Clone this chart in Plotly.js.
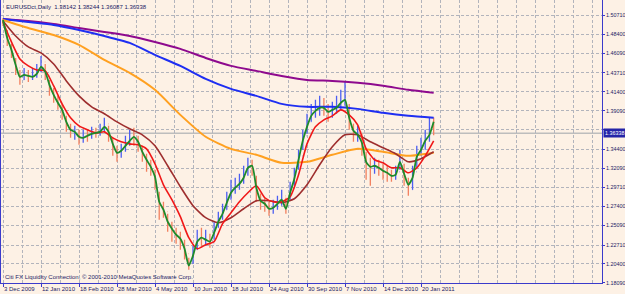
<!DOCTYPE html>
<html>
<head>
<meta charset="utf-8">
<script src="https://cdn.plot.ly/plotly-3.0.1.min.js"></script>
<style>
  html, body { margin: 0; padding: 0; background: #FDF1E5; }
  #chart { width: 625px; height: 294px; }
</style>
</head>
<body>
<div id="chart"></div>
<script>
// ---- Data (sample index: one step ≈ 3 trading days) ----
const dateTickIdx = [0, 9, 18, 27, 36, 45, 54, 63, 72, 81, 90, 99];
const dateTickLabels = ['3 Dec 2009', '12 Jan 2010', '18 Feb 2010', '28 Mar 2010', '4 May 2010', '10 Jun 2010',
  '18 Jul 2010', '24 Aug 2010', '30 Sep 2010', '7 Nov 2010', '14 Dec 2010', '20 Jan 2011'];

const priceTickVals = [1.50710, 1.48400, 1.46090, 1.43710, 1.41400, 1.39090, 1.36780, 1.34400, 1.32090,
  1.29710, 1.27400, 1.25090, 1.22710, 1.20400, 1.18090];
// 1.36780 is hidden behind the current-price box in the reference
const priceTickText = ['1.50710', '1.48400', '1.46090', '1.43710', '1.41400', '1.39090', '', '1.34400',
  '1.32090', '1.29710', '1.27400', '1.25090', '1.22710', '1.20400', '1.18090'];

const closePrices = [
  1.4989,1.4770,1.4624,1.4429,1.4283,1.4369,1.4308,1.4356,1.4381,1.4503,
  1.4332,1.4162,1.4077,1.3979,1.3870,1.3723,1.3650,1.3675,1.3553,1.3602,
  1.3577,1.3650,1.3626,1.3699,1.3748,1.3577,1.3431,1.3358,1.3456,1.3529,
  1.3602,1.3553,1.3456,1.3358,1.3261,1.3188,1.3017,1.2750,1.2677,1.2506,
  1.2433,1.2385,1.2312,1.2166,1.2044,1.2214,1.2360,1.2336,1.2360,1.2287,
  1.2482,1.2604,1.2701,1.2847,1.2945,1.2993,1.3066,1.3139,1.3261,1.3188,
  1.2896,1.2774,1.2750,1.2677,1.2750,1.2823,1.2871,1.2750,1.2969,1.3139,
  1.3358,1.3602,1.3772,1.3894,1.3943,1.3991,1.3918,1.3845,1.3943,1.3967,
  1.4064,1.4089,1.3748,1.3626,1.3650,1.3456,1.3212,1.3188,1.3261,1.3188,
  1.3139,1.3115,1.3091,1.3164,1.3334,1.3066,1.2945,1.3164,1.3407,1.3480,
  1.3577,1.3790,1.36338];
const highPrices = [
  1.5038,1.4892,1.4722,1.4551,1.4405,1.4429,1.4405,1.4429,1.4478,1.4576,
  1.4478,1.4283,1.4186,1.4089,1.3991,1.3845,1.3748,1.3723,1.3675,1.3675,
  1.3675,1.3711,1.3699,1.3748,1.3821,1.3723,1.3577,1.3480,1.3504,1.3602,
  1.3675,1.3699,1.3602,1.3480,1.3383,1.3310,1.3188,1.2920,1.2798,1.2652,
  1.2555,1.2482,1.2433,1.2336,1.2117,1.2263,1.2458,1.2482,1.2458,1.2409,
  1.2555,1.2677,1.2774,1.2920,1.3066,1.3091,1.3139,1.3237,1.3334,1.3310,
  1.3115,1.2896,1.2847,1.2798,1.2823,1.2871,1.2945,1.2847,1.3042,1.3212,
  1.3431,1.3675,1.3870,1.3991,1.4040,1.4089,1.4064,1.3991,1.4016,1.4089,
  1.4162,1.4259,1.3991,1.3748,1.3723,1.3626,1.3407,1.3334,1.3334,1.3310,
  1.3261,1.3237,1.3188,1.3237,1.3431,1.3261,1.3091,1.3237,1.3480,1.3577,
  1.3675,1.3821,1.38244];
const lowPrices = [
  1.4941,1.4697,1.4551,1.4344,1.4223,1.4283,1.4259,1.4283,1.4308,1.4381,
  1.4283,1.4089,1.4004,1.3918,1.3797,1.3650,1.3577,1.3553,1.3492,1.3517,
  1.3529,1.3565,1.3577,1.3602,1.3650,1.3529,1.3358,1.3285,1.3334,1.3407,
  1.3480,1.3480,1.3407,1.3285,1.3164,1.3115,1.2945,1.2579,1.2604,1.2433,
  1.2312,1.2287,1.2214,1.2093,1.1971,1.2044,1.2214,1.2263,1.2263,1.2238,
  1.2336,1.2482,1.2579,1.2701,1.2823,1.2896,1.2945,1.3017,1.3115,1.3115,
  1.2798,1.2701,1.2677,1.2628,1.2652,1.2701,1.2750,1.2652,1.2823,1.2993,
  1.3188,1.3431,1.3626,1.3772,1.3821,1.3845,1.3845,1.3772,1.3821,1.3870,
  1.3918,1.3967,1.3675,1.3529,1.3529,1.3358,1.3066,1.2993,1.3139,1.3115,
  1.3066,1.3042,1.3042,1.3066,1.3188,1.2993,1.2871,1.2945,1.3212,1.3358,
  1.3431,1.3529,1.36087];

const maGreen = [
  1.5014,1.4795,1.4649,1.4466,1.4320,1.4344,1.4332,1.4320,1.4356,1.4442,
  1.4381,1.4223,1.4101,1.4004,1.3918,1.3772,1.3675,1.3650,1.3590,1.3577,
  1.3602,1.3626,1.3638,1.3650,1.3711,1.3650,1.3504,1.3395,1.3419,1.3480,
  1.3541,1.3590,1.3529,1.3407,1.3310,1.3224,1.3103,1.2798,1.2701,1.2555,
  1.2470,1.2397,1.2348,1.2226,1.2019,1.2141,1.2312,1.2360,1.2336,1.2312,
  1.2421,1.2555,1.2652,1.2786,1.2908,1.2969,1.3017,1.3091,1.3212,1.3237,
  1.2969,1.2811,1.2774,1.2713,1.2725,1.2774,1.2823,1.2713,1.2908,1.3078,
  1.3310,1.3541,1.3711,1.3845,1.3906,1.3943,1.3943,1.3894,1.3918,1.3943,
  1.4004,1.4040,1.3821,1.3663,1.3614,1.3517,1.3285,1.3224,1.3237,1.3212,
  1.3176,1.3151,1.3115,1.3127,1.3285,1.3139,1.3005,1.3091,1.3346,1.3431,
  1.3541,1.3614,1.3772];
// every 2nd sample
const maRed = [
  1.4989,1.4746,1.4539,1.4454,1.4405,1.4393,1.4210,1.3991,1.3821,1.3723,
  1.3675,1.3638,1.3650,1.3577,1.3529,1.3504,1.3492,1.3443,1.3261,1.3005,
  1.2823,1.2616,1.2360,1.2226,1.2275,1.2312,1.2531,1.2665,1.2798,1.2908,
  1.2993,1.2847,1.2798,1.2798,1.2859,1.3127,1.3504,1.3711,1.3797,1.3845,
  1.3918,1.3857,1.3736,1.3443,1.3310,1.3273,1.3212,1.3212,1.3151,1.3212,
  1.3358,1.3541];
// every 3rd sample
const maBrown = [
  1.5002,1.4819,1.4685,1.4612,1.4478,1.4271,1.4089,1.3955,1.3870,1.3772,
  1.3687,1.3614,1.3480,1.3237,1.2981,1.2750,1.2604,1.2543,1.2604,1.2713,
  1.2811,1.2811,1.2786,1.2835,1.3005,1.3249,1.3468,1.3614,1.3614,1.3529,
  1.3456,1.3383,1.3285,1.3322,1.3407];
// every 6th sample
const maOrange = [1.5014,1.4916,1.4831,1.4710,1.4527,1.4369,1.4162,1.3857,1.3590,1.3443,
  1.3370,1.3273,1.3285,1.3370,1.3443,1.3407,1.3358,1.3395];
const maBlue = [1.5026,1.4989,1.4953,1.4892,1.4819,1.4734,1.4588,1.4454,1.4296,1.4174,
  1.4089,1.3991,1.3955,1.3955,1.3930,1.3882,1.3845,1.3821];
const maPurple = [1.5026,1.5002,1.4965,1.4916,1.4868,1.4819,1.4746,1.4661,1.4551,1.4454,
  1.4393,1.4332,1.4283,1.4271,1.4247,1.4211,1.4162,1.4125];

const headerText = 'EURUSDct,Daily  1.38142 1.38244 1.36087 1.36338';
const footerText = 'Citi FX Liquidity Connection, © 2001-2010 MetaQuotes Software Corp.';
const lastPriceLabel = '1.36338';

// ---- Build ----
const idx = closePrices.map((_, i) => i);
const openPrices = closePrices.map((c, i) => i === 0 ? 1.5014 : closePrices[i - 1]);
const stepIdx = (arr, s) => arr.map((_, k) => k * s);
const lastClose = closePrices[closePrices.length - 1];

const FONT = 'Liberation Sans, Arial, sans-serif';
const AXIS = '#3B3BCB';
const GRID = '#B2B4BC';
const TXT = '#1C1C66';

const ma = (x, y, color, w) => ({type: 'scatter', mode: 'lines', x, y,
  line: {color, width: w, shape: 'spline', smoothing: 0.6}, hoverinfo: 'skip', showlegend: false});

const traces = [
  {type: 'ohlc', x: idx, open: openPrices, high: highPrices, low: lowPrices, close: closePrices,
   increasing: {line: {color: '#4C5EF2', width: 1.3}}, decreasing: {line: {color: '#F2805F', width: 1.3}},
   tickwidth: 0.08, hoverinfo: 'skip', showlegend: false},
  ma(stepIdx(maPurple, 6), maPurple, '#8E0A8E', 2),
  ma(stepIdx(maBlue, 6), maBlue, '#1E2EF2', 2),
  ma(stepIdx(maOrange, 6), maOrange, '#FFA020', 2),
  ma(stepIdx(maBrown, 3), maBrown, '#9E2E2E', 1.6),
  ma(stepIdx(maRed, 2), maRed, '#F01818', 1.6),
  ma(idx, maGreen, '#1E8A2A', 1.8)
];

const layout = {
  width: 625, height: 294,
  margin: {l: 1, r: 23, t: 0, b: 11, pad: 0},
  paper_bgcolor: '#FDF1E5', plot_bgcolor: '#FDF1E5',
  showlegend: false,
  font: {family: FONT, size: 6, color: TXT},
  xaxis: {
    range: [-0.4737, 141.868], tickmode: 'array', tickvals: dateTickIdx, ticktext: dateTickLabels,
    tickangle: 0, ticks: 'outside', ticklen: 3, tickcolor: AXIS, ticklabelposition: 'outside right',
    tickfont: {family: FONT, size: 6, color: TXT},
    showline: true, linecolor: AXIS, linewidth: 1, zeroline: false,
    showgrid: true, gridcolor: GRID, griddash: '3px,2px', gridwidth: 1,
    minor: {tick0: 0, dtick: 4.5, showgrid: true, gridcolor: GRID, griddash: '3px,2px', gridwidth: 1, ticks: ''},
    rangeslider: {visible: false}, fixedrange: true
  },
  yaxis: {
    side: 'right', range: [1.1808, 1.5257], tickmode: 'array', tickvals: priceTickVals, ticktext: priceTickText,
    ticks: 'outside', ticklen: 2, tickcolor: AXIS, tickfont: {family: FONT, size: 5.4, color: TXT},
    showline: true, mirror: true, linecolor: AXIS, linewidth: 1, zeroline: false,
    showgrid: true, gridcolor: GRID, griddash: '3px,2px', gridwidth: 1, fixedrange: true
  },
  shapes: [
    {type: 'line', xref: 'paper', x0: 0, x1: 1, yref: 'y', y0: lastClose, y1: lastClose,
     line: {color: '#BDBDBD', width: 1.5}, layer: 'below'}
  ],
  annotations: [
    {text: headerText, xref: 'paper', yref: 'paper', x: 0, y: 1, xanchor: 'left', yanchor: 'top',
     xshift: 3, yshift: -2, showarrow: false, font: {family: FONT, size: 6, color: TXT}},
    {text: footerText, xref: 'paper', yref: 'paper', x: 0, y: 0, xanchor: 'left', yanchor: 'bottom',
     xshift: 2, yshift: 1, showarrow: false, font: {family: FONT, size: 6, color: TXT}},
    {text: lastPriceLabel, xref: 'paper', yref: 'y', x: 1, y: lastClose, xanchor: 'left', yanchor: 'middle',
     xshift: 1, showarrow: false, bgcolor: '#2424A8', borderpad: 1,
     font: {family: FONT, size: 5.4, color: '#FFFFFF'}}
  ]
};

Plotly.newPlot('chart', traces, layout, {staticPlot: true, displayModeBar: false});
</script>
</body>
</html>
